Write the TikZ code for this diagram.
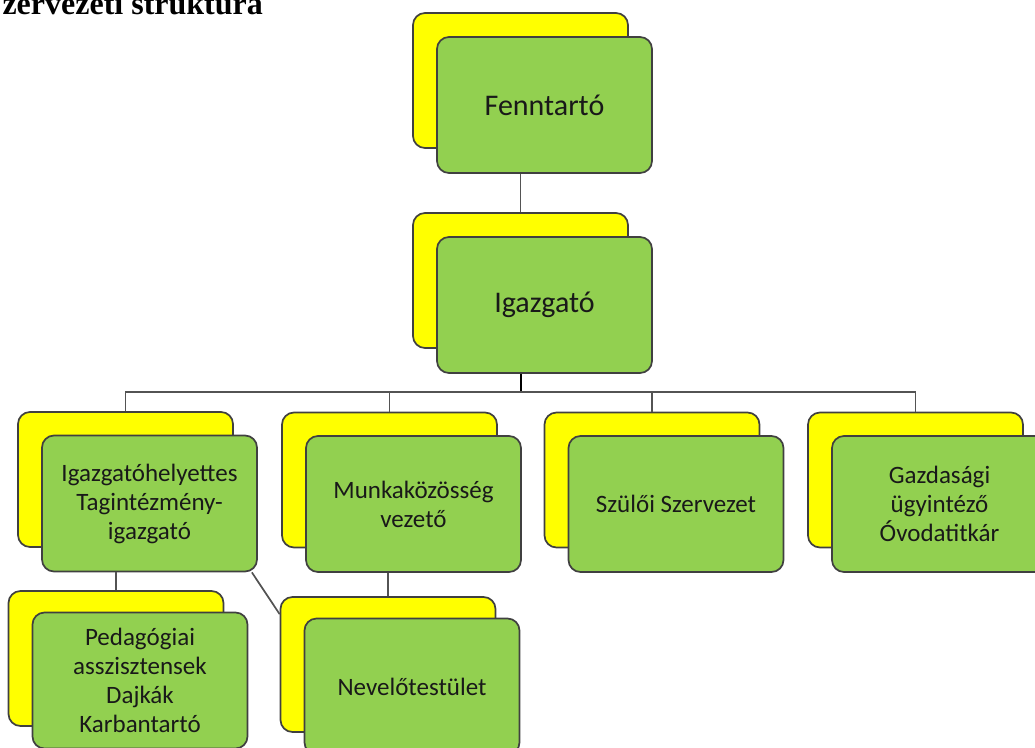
\documentclass[tikz,border=0pt]{standalone}
\usepackage{fontspec}
\setmainfont{Carlito}
\newfontfamily\cimfont{Liberation Serif}
\usetikzlibrary{positioning}
\definecolor{lap}{HTML}{92D050}
\definecolor{hat}{HTML}{FFFF00}
\definecolor{keret}{HTML}{404040}
\tikzset{
    hatlap/.style={draw=keret, fill=hat, line width=1.7pt, rounded corners=12pt,
        minimum width=215pt, minimum height=135pt}, % sárga hátlap
    kartya/.style={draw=keret, fill=lap, line width=1.7pt, rounded corners=12pt,
        minimum width=215pt, minimum height=136pt, align=center, text=black!90,
        font=\fontsize{25}{29}\selectfont},
    nagykartya/.style={kartya, font=\fontsize{30}{36}\selectfont},
    vonal/.style={draw=keret!90, line width=1.7pt},
}
\begin{document}
\begin{tikzpicture}[x=1pt, y=-1pt]
    \useasboundingbox (0,0) rectangle (1035,747);
    \node[anchor=base west, font=\cimfont\bfseries\fontsize{32}{36}\selectfont] (cim) at (-1,14) {zervezeti struktúra};
    % hátlapok
    \node[hatlap] (fennH) at (520.5,80.5) {};
    \node[hatlap] (igazH) at (520.5,280.5) {};
    \node[hatlap] (helyH) at (125.5,479.5) {};
    \node[hatlap] (munkH) at (389.5,480) {};
    \node[hatlap] (szulH) at (652,480) {};
    \node[hatlap] (gazdH) at (915.5,480) {};
    \node[hatlap] (pedH) at (116,658.5) {};
    \node[hatlap] (nevH) at (388,664.5) {};
    % zöld kártyák, 24pt-tel jobbra lent
    \node[nagykartya] (fenn) at ([shift={(24pt,-24.5pt)}]fennH.center) {Fenntartó};
    \node[nagykartya] (igaz) at ([shift={(24pt,-24.5pt)}]igazH.center) {Igazgató};
    \node[kartya] (hely) at ([shift={(24pt,-24pt)}]helyH.center) {Igazgatóhelyettes\\Tagintézmény-\\igazgató};
    \node[kartya] (munk) at ([shift={(24pt,-24pt)}]munkH.center) {Munkaközösség\\vezető};
    \node[kartya] (szul) at ([shift={(24pt,-24pt)}]szulH.center) {Szülői Szervezet};
    \node[kartya] (gazd) at ([shift={(24pt,-24pt)}]gazdH.center) {Gazdasági\\ügyintéző\\Óvodatitkár};
    \node[kartya] (ped) at ([shift={(24pt,-22pt)}]pedH.center) {Pedagógiai\\asszisztensek\\Dajkák\\Karbantartó};
    \node[kartya] (nev) at ([shift={(24pt,-22pt)}]nevH.center) {Nevelőtestület};
    % összekötők
    \coordinate (busz) at (520.5,392);
    \draw[vonal] (fennH.south |- fenn.south) -- (igazH.north);
    \draw[vonal, draw=black, line width=2pt] (igazH.south |- igaz.south) -- (busz);
    \draw[vonal] (helyH.north) -- (helyH.north |- busz) -- (gazdH.north |- busz) -- (gazdH.north);
    \draw[vonal] (munkH.north |- busz) -- (munkH.north);
    \draw[vonal] (szulH.north |- busz) -- (szulH.north);
    \draw[vonal] (pedH.north |- hely.south) -- (pedH.north);
    \draw[vonal] (nevH.north |- munk.south) -- (nevH.north);
    \draw[vonal] ([xshift=-6pt]hely.south east) -- ([yshift=-18pt]nevH.north west);
\end{tikzpicture}
\end{document}
